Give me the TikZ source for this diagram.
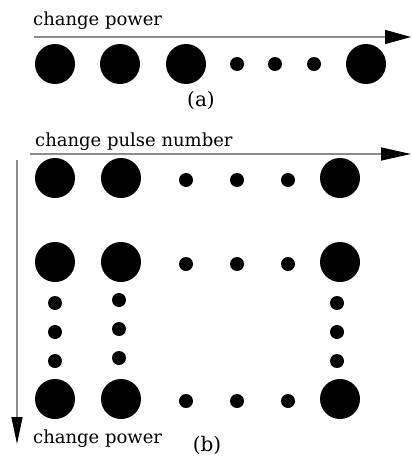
\documentclass[tikz,border=0pt]{standalone}
\usepackage{fontspec}
\setmainfont{DejaVu Serif}
\usepackage{tikz}
\usetikzlibrary{arrows.meta}

\begin{document}
\begin{tikzpicture}[
    x=1pt, y=-1pt,
    every node/.style={font=\fontsize{18}{22}\selectfont},
    capt/.style={font=\fontsize{20}{24}\selectfont},
    bigdot/.style={circle, fill=black, inner sep=0pt, minimum size=40pt},
    smalldot/.style={circle, fill=black, inner sep=0pt, minimum size=14pt},
    axisline/.style={draw=black!45, line width=1.3pt}
  ]
  \useasboundingbox (0,0) rectangle (412,458);
  % (a) one row of spots
  \node[anchor=base west, inner sep=0pt] (lbl a) at (33,25.7) {change power};
  \coordinate (a start) at (34,37);
  \coordinate (a end) at (411,37);
  \draw[axisline, -{Triangle[length=26pt,width=14pt,color=black]}] (a start) -- (a end);
  \foreach \x [count=\i] in {55,120,186,366}
    \node[bigdot] (a\i) at (\x,64) {};
  \foreach \x [count=\i] in {237,275,314}
    \node[smalldot] (as\i) at (\x,64) {};
  \node[capt] (cap a) at (201,100) {(a)};

  % (b) grid of spots
  \node[anchor=base west, inner sep=0pt] (lbl b) at (35,146.7) {change pulse number};
  \coordinate (b start) at (30,154);
  \coordinate (b end) at (411,154);
  \draw[axisline, -{Triangle[length=30pt,width=13pt,color=black]}] (b start) -- (b end);
  \coordinate (v start) at (17,160);
  \coordinate (v end) at (17,444);
  \draw[axisline, -{Triangle[length=27pt,width=11pt,color=black]}] (v start) -- (v end);
  \foreach \y [count=\r] in {178,262,399} {
    \foreach \x [count=\c] in {55,121,340}
      \node[bigdot] (b\r\c) at (\x,\y) {};
    \foreach \x [count=\c] in {186,237,288}
      \node[smalldot] (bs\r\c) at (\x,\y+2) {};
  }
  % vertical dots between rows
  \foreach \y [count=\i] in {303,332,361} {
    \node[smalldot] (v1\i) at (55,\y) {};
    \node[smalldot] (v2\i) at (119,\y-3) {};
    \node[smalldot] (v3\i) at (337,\y) {};
  }
  \node[anchor=base west, inner sep=0pt] (lbl v) at (33,443) {change power};
  \node[capt] (cap b) at (207,445) {(b)};
\end{tikzpicture}
\end{document}
